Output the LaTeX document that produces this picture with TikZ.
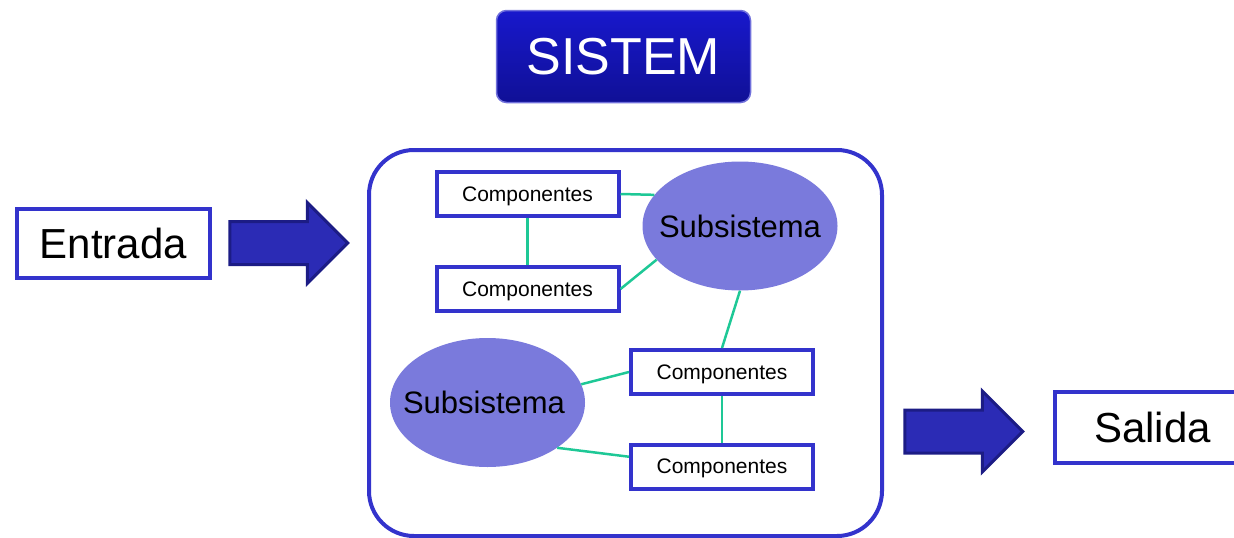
\documentclass[tikz,border=0pt]{standalone}
\usepackage{fontspec}
\setmainfont{Liberation Sans}
\usetikzlibrary{positioning, shapes.geometric, shapes.arrows}
\definecolor{boxblue}{RGB}{51, 51, 204}
\definecolor{subfill}{RGB}{122, 122, 220}
\definecolor{linkgreen}{RGB}{30, 200, 150}
\definecolor{arrowfill}{RGB}{43, 43, 181}
\definecolor{arrowedge}{RGB}{28, 28, 133}
\definecolor{titletop}{RGB}{24, 24, 204}
\definecolor{titlebot}{RGB}{16, 16, 150}

\begin{document}
\begin{tikzpicture}[
    x=1pt, y=-1pt,
    comp/.style={draw=boxblue, line width=4pt, fill=white, minimum width=182pt, minimum height=44pt, inner sep=0pt, text depth=0pt, font=\fontsize{21}{24}\selectfont},
    subsys/.style={ellipse, fill=subfill, minimum width=195pt, minimum height=129pt, inner xsep=-16pt, inner ysep=0pt, font=\fontsize{31}{36}\selectfont},
    io/.style={draw=boxblue, line width=4pt, fill=white, inner sep=0pt, font=\fontsize{42}{48}\selectfont},
    bigarrow/.style={single arrow, fill=arrowfill, draw=arrowedge, line width=3pt, minimum width=78pt, minimum height=118pt, single arrow head extend=19pt, inner xsep=0pt, inner ysep=20pt},
    link/.style={draw=linkgreen, line width=2.5pt}
]
\useasboundingbox (0,0) rectangle (1234,538);

% system frame and title
\node[draw=boxblue, line width=4pt, rounded corners=45pt, minimum width=513pt, minimum height=386pt] (frame) at (625.5,343) {};
\node[draw=boxblue!70, line width=1.5pt, rounded corners=10pt, top color=titletop, bottom color=titlebot, text=white, minimum width=254pt, minimum height=92pt, font=\fontsize{52}{60}\selectfont] (title) at (623.5,56.5) {SISTEM};

% input / output
\node[io, minimum width=193pt, minimum height=69pt] (entrada) at (113.5,243.5) {Entrada};
\node[bigarrow] (arrin) at (278,243) {};
\node[bigarrow] (arrout) at (953,431.5) {};
\node[io, minimum width=195pt, minimum height=71pt] (salida) at (1152.5,427.5) {Salida};

% inside the system
\node[comp] (comp1) at (527.5,194) {Componentes};
\node[comp] (comp2) at (527.5,289) {Componentes};
\node[subsys] (sub1) at (740,226) {Subsistema};
\node[comp] (comp3) at (722,372) {Componentes};
\node[comp] (comp4) at (722,466.5) {Componentes};
\node[subsys] (sub2) at (487.5,402.5) {\hspace*{-7pt}Subsistema};

\draw[link] (comp1.east) -- (sub1.160);
\draw[link] (comp1) -- (comp2);
\draw[link] (comp2.east) -- (sub1.202);
\draw[link] (sub1.south) -- (comp3.north);
\draw[link] (sub2.11) -- (comp3.west);
\draw[link] (sub2.-33) -- (comp4.174);
\draw[link] (comp3) -- (comp4);

\end{tikzpicture}
\end{document}
